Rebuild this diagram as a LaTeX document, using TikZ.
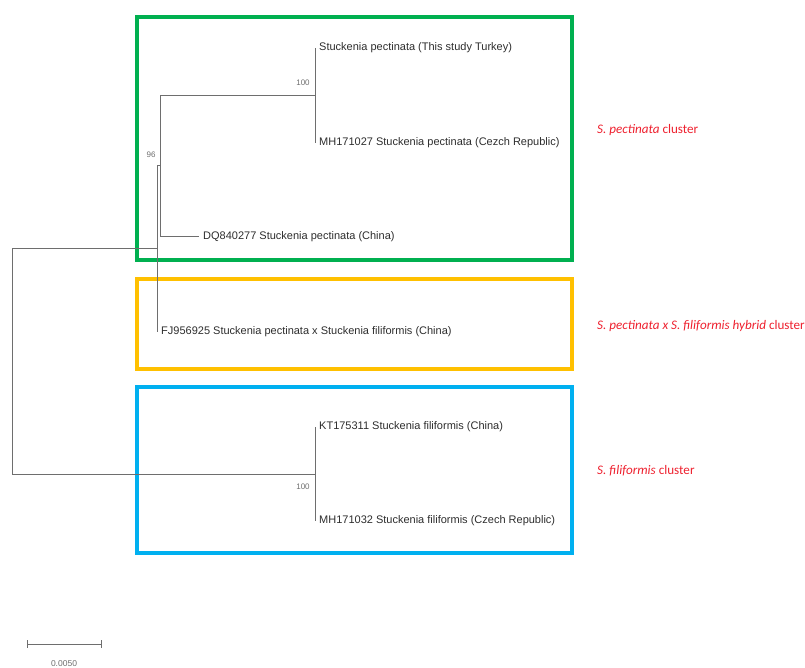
\documentclass[tikz,border=0pt]{standalone}
\usepackage{fontspec}
\setmainfont{Liberation Sans}
\newfontfamily\calfont{Carlito}
\usepackage{xcolor}
\usetikzlibrary{shapes,arrows,positioning,calc}
\definecolor{treegray}{RGB}{110,110,110}
\definecolor{tipgray}{RGB}{45,45,45}
\definecolor{boxgreen}{RGB}{0,176,80}
\definecolor{boxyellow}{RGB}{255,192,0}
\definecolor{boxblue}{RGB}{0,176,240}
\definecolor{clusterred}{RGB}{238,32,46}

\begin{document}
\begin{tikzpicture}[x=1pt, y=-1pt,
		branch/.style={treegray, line width=1pt},
		tip/.style={anchor=west, inner sep=4pt, text=tipgray, font=\fontsize{11}{13}\selectfont},
		support/.style={inner sep=0pt, text=treegray, font=\fontsize{8}{9}\selectfont},
		clusterbox/.style={draw, line width=3.5pt, minimum width=435pt, inner sep=0pt},
		clusterlabel/.style={anchor=west, inner sep=0pt, text=clusterred, font=\calfont\fontsize{13.1}{15}\selectfont}]
				\useasboundingbox (0,0) rectangle (805,668);
				
				% Draw cluster boxes
				\node[clusterbox, draw=boxgreen, minimum height=243pt] (pectbox) at (354.5,138.5) {};
				\node[clusterbox, draw=boxyellow, minimum height=90pt] (hybbox) at (354.5,324) {};
				\node[clusterbox, draw=boxblue, minimum height=166pt] (filibox) at (354.5,470) {};
				
				% Draw taxa
				\node[tip] (turkey) at (315,48) {Stuckenia pectinata (This study Turkey)};
				\node[tip] (cezch) at (315,143) {MH171027 Stuckenia pectinata (Cezch Republic)};
				\node[tip] (dq) at (199,237) {DQ840277 Stuckenia pectinata (China)};
				\node[tip] (fj) at (157,332) {FJ956925 Stuckenia pectinata x Stuckenia filiformis (China)};
				\node[tip] (kt) at (315,427) {KT175311 Stuckenia filiformis (China)};
				\node[tip] (czech) at (315,521) {MH171032 Stuckenia filiformis (Czech Republic)};
				
				% Draw internal nodes
				\coordinate (root) at (12,360);
				\coordinate (n96) at (157,249);
				\coordinate (npect) at (160,166);
				\coordinate (nturk) at (315,95.5);
				\coordinate (nfili) at (315,474);
				
				% Draw branches
				\draw[branch] (root) |- (n96);
				\draw[branch] (root) |- (nfili);
				\draw[branch] (n96) |- (npect);
				\draw[branch] (n96) |- (fj.west);
				\draw[branch] (npect) |- (nturk);
				\draw[branch] (npect) |- (dq.west);
				\draw[branch] (nturk) |- (turkey.west);
				\draw[branch] (nturk) |- (cezch.west);
				\draw[branch] (nfili) |- (kt.west);
				\draw[branch] (nfili) |- (czech.west);
				
				% Draw bootstrap values
				\node[support] (bs96) at (151,155) {96};
				\node[support] (bsturk) at (303,83) {100};
				\node[support] (bsfili) at (303,487) {100};
				
				% Draw cluster labels
				\node[clusterlabel] (pectlabel) at (597,130) {\textit{S. pectinata} cluster};
				\node[clusterlabel] (hyblabel) at (597,326) {\textit{S. pectinata x S. filiformis hybrid} cluster};
				\node[clusterlabel] (fililabel) at (597,471) {\textit{S. filiformis} cluster};
				
				% Draw scale bar
				\coordinate (barleft) at (27,644);
				\coordinate (barright) at (102,644);
				\draw[branch, |-|] (barleft) -- (barright);
				\node[support, font=\fontsize{8.5}{10}\selectfont] (barlabel) at (64,664) {0.0050};
			\end{tikzpicture}
\end{document}
